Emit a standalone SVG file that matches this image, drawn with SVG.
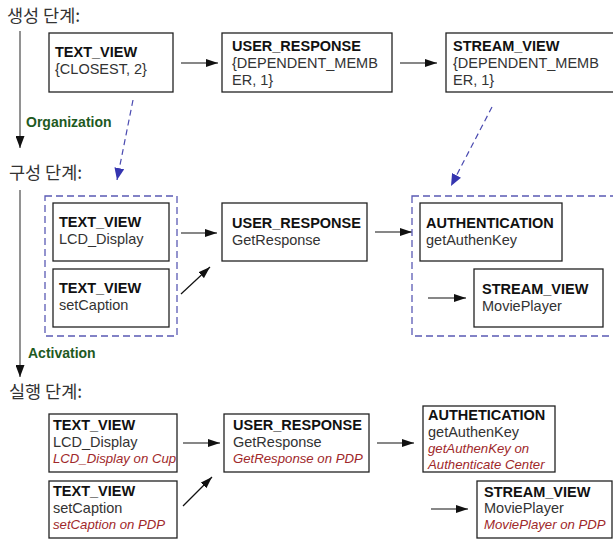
<svg xmlns="http://www.w3.org/2000/svg" width="613" height="543" viewBox="0 0 613 543">
<style>
.box{fill:#fff;stroke:#222;stroke-width:1.3}
.grp{fill:none;stroke:#5a5ab4;stroke-width:1.3;stroke-dasharray:7 4}
.t{font-family:"Liberation Sans",Arial,sans-serif;font-size:14.5px;fill:#333}
.b{font-weight:bold;fill:#111}
.i{font-style:italic;fill:#a0282a;font-size:13.2px}
.h{font-family:"Noto Sans CJK KR","Noto Sans",sans-serif;font-size:17.5px;fill:#333}
.g{font-family:"Liberation Sans",Arial,sans-serif;font-size:14px;font-weight:bold;fill:#1f5a1f}
.a{stroke:#111;stroke-width:1.2;fill:none;marker-end:url(#ah)}
.d{stroke:#4a4ab0;stroke-width:1.2;fill:none;stroke-dasharray:6 4;marker-end:url(#bh)}
.v{stroke:#777;stroke-width:1.6;fill:none;marker-end:url(#vh)}
</style>
<defs>
<marker id="ah" viewBox="0 0 12 8" refX="12" refY="4" markerWidth="12" markerHeight="8" markerUnits="userSpaceOnUse" orient="auto"><path d="M0,0L12,4L0,8z" fill="#111"/></marker>
<marker id="bh" viewBox="0 0 12 10" refX="12" refY="5" markerWidth="12" markerHeight="10" markerUnits="userSpaceOnUse" orient="auto"><path d="M0,0L12,5L0,10z" fill="#3535b0"/></marker>
<marker id="vh" viewBox="0 0 12 9" refX="12" refY="4.5" markerWidth="12" markerHeight="9" markerUnits="userSpaceOnUse" orient="auto"><path d="M0,0L12,4.5L0,9z" fill="#111"/></marker>
</defs>
<rect width="613" height="543" fill="#fff"/>

<g id="labels">
<text class="h" x="7" y="22">생성 단계:</text>
<text class="h" x="9" y="179">구성 단계:</text>
<text class="h" x="9" y="398">실행 단계:</text>
<text class="g" x="26" y="127">Organization</text>
<text class="g" x="28" y="358">Activation</text>
</g>

<g id="connectors">
<line class="v" x1="20" y1="31" x2="20" y2="148"/>
<line class="v" x1="20" y1="190" x2="20" y2="377"/>
<line class="a" x1="181" y1="63" x2="218" y2="63"/>
<line class="a" x1="400" y1="63" x2="437" y2="63"/>
<line class="d" x1="133" y1="100" x2="117" y2="180"/>
<line class="d" x1="492" y1="107" x2="451" y2="186"/>
<line class="a" x1="181" y1="233" x2="217" y2="233"/>
<line class="a" x1="181" y1="294" x2="210" y2="267"/>
<line class="a" x1="375" y1="232" x2="412" y2="232"/>
<line class="a" x1="428" y1="298" x2="466" y2="298"/>
<line class="a" x1="183" y1="443" x2="220" y2="443"/>
<line class="a" x1="183" y1="506" x2="212" y2="477"/>
<line class="a" x1="377" y1="443" x2="414" y2="443"/>
<line class="a" x1="431" y1="509" x2="468" y2="509"/>
</g>

<g id="groups">
<rect class="grp" x="45" y="196" width="132" height="140"/>
<rect class="grp" x="412" y="196" width="210" height="140"/>
</g>

<g id="n1"><rect class="box" x="49" y="33" width="124" height="59"/>
<text class="t b" x="55" y="57">TEXT_VIEW</text><text class="t" x="55" y="74">{CLOSEST, 2}</text></g>
<g id="n2"><rect class="box" x="222" y="33" width="170" height="59"/>
<text class="t b" x="232" y="51">USER_RESPONSE</text><text class="t" x="232" y="68">{DEPENDENT_MEMB</text><text class="t" x="232" y="85">ER, 1}</text></g>
<g id="n3"><rect class="box" x="446" y="33" width="180" height="59"/>
<text class="t b" x="453" y="51">STREAM_VIEW</text><text class="t" x="453" y="68">{DEPENDENT_MEMB</text><text class="t" x="453" y="85">ER, 1}</text></g>

<g id="n4"><rect class="box" x="53" y="203" width="116" height="58"/>
<text class="t b" x="59" y="227">TEXT_VIEW</text><text class="t" x="59" y="244">LCD_Display</text></g>
<g id="n5"><rect class="box" x="53" y="269" width="116" height="58"/>
<text class="t b" x="59" y="293">TEXT_VIEW</text><text class="t" x="59" y="310">setCaption</text></g>
<g id="n6"><rect class="box" x="222" y="203" width="145" height="58"/>
<text class="t b" x="232" y="228">USER_RESPONSE</text><text class="t" x="232" y="245">GetResponse</text></g>
<g id="n7"><rect class="box" x="420" y="203" width="142" height="58"/>
<text class="t b" x="426" y="228">AUTHENTICATION</text><text class="t" x="426" y="245">getAuthenKey</text></g>
<g id="n8"><rect class="box" x="474" y="269" width="129" height="58"/>
<text class="t b" x="482" y="294">STREAM_VIEW</text><text class="t" x="482" y="311">MoviePlayer</text></g>

<g id="n9"><rect class="box" x="49" y="414" width="128" height="58"/>
<text class="t b" x="53" y="430">TEXT_VIEW</text><text class="t" x="53" y="447">LCD_Display</text><text class="t i" x="53" y="463">LCD_Display on Cup</text></g>
<g id="n10"><rect class="box" x="49" y="481" width="128" height="57"/>
<text class="t b" x="53" y="496">TEXT_VIEW</text><text class="t" x="53" y="513">setCaption</text><text class="t i" x="53" y="529">setCaption on PDP</text></g>
<g id="n11"><rect class="box" x="224" y="414" width="145" height="58"/>
<text class="t b" x="233" y="430">USER_RESPONSE</text><text class="t" x="233" y="447">GetResponse</text><text class="t i" x="233" y="463">GetResponse on PDP</text></g>
<g id="n12"><rect class="box" x="423" y="406" width="132" height="66"/>
<text class="t b" x="428" y="420">AUTHETICATION</text><text class="t" x="428" y="437">getAuthenKey</text><text class="t i" x="428" y="453">getAuthenKey on</text><text class="t i" x="428" y="469">Authenticate Center</text></g>
<g id="n13"><rect class="box" x="477" y="481" width="135" height="57"/>
<text class="t b" x="484" y="497">STREAM_VIEW</text><text class="t" x="484" y="513">MoviePlayer</text><text class="t i" x="484" y="529">MoviePlayer on PDP</text></g>
</svg>
